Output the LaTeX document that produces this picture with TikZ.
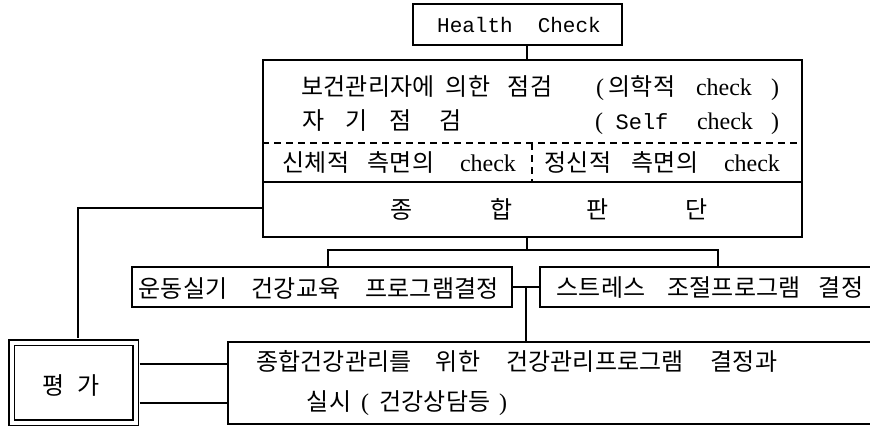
\documentclass[tikz,border=0pt]{standalone}
\usepackage{fontspec}
\setmainfont{Liberation Serif}
\newfontfamily\kr{Noto Sans CJK KR}
\newfontfamily\mono{Liberation Mono}
\tikzset{
  box/.style={draw, rectangle, line width=1.4pt, inner sep=0pt},
  kt/.style={inner sep=0pt, anchor=base, font=\kr\fontsize{24}{26}\selectfont},
  lt/.style={inner sep=0pt, anchor=base, font=\fontsize{24}{26}\selectfont},
  mt/.style={inner sep=0pt, anchor=base, font=\mono\fontsize{21}{24}\selectfont},
  ln/.style={line width=1.3pt},
  dl/.style={line width=1.2pt, dash pattern=on 7pt off 5pt},
}
\begin{document}
\begin{tikzpicture}[x=1pt,y=-1pt]
\useasboundingbox (0,0) rectangle (870,426);
\clip (0,0) rectangle (870,426);
% helper coordinates
\coordinate (v1) at (527,0);
\coordinate (v2) at (526,0);
\coordinate (dA) at (328,0);
\coordinate (dB) at (718,0);
\coordinate (br) at (0,250);
\coordinate (dy) at (0,143);
\coordinate (sy) at (0,182);
\coordinate (dx) at (532,0);
\coordinate (lc) at (0,208);
\coordinate (lx) at (78,0);
\coordinate (l1) at (0,364);
\coordinate (l2) at (0,403);

% boxes
\node[box, minimum width=209pt, minimum height=41pt] (hc) at (517.5,24.5) {};
\node[mt] (hct) at (519,32) {Health\hspace{25pt}Check};
\node[box, minimum width=539pt, minimum height=177pt] (big) at (532.5,148.5) {};
\node[box, minimum width=380pt, minimum height=40pt] (ba) at (322,287) {};
\node[box, minimum width=350pt, minimum height=40pt] (bb) at (715,287) {};
\node[box, minimum width=660pt, minimum height=82pt] (bot) at (558,383) {};
\node[box, double, double distance=4pt, minimum width=124pt, minimum height=80pt] (pg) at (73.5,382.5) {};

% inner lines of the big box
\draw[dl] (big.west |- dy) -- (big.east |- dy);
\draw[ln] (big.west |- sy) -- (big.east |- sy);
\draw[dl] (dx |- dy) -- (dx |- sy);

% row 1
\node[kt] (r1a) at (368,95) {보건관리자에};
\node[kt] (r1b) at (468,95) {의한};
\node[kt] (r1c) at (530,95) {점검};
\node[lt] (r1d) at (600,95) {(};
\node[kt] (r1e) at (642,95) {의학적};
\node[lt] (r1f) at (724,95) {check};
\node[lt] (r1g) at (775,95) {)};
% row 2
\node[kt] (r2a) at (314,129) {자};
\node[kt] (r2b) at (357,129) {기};
\node[kt] (r2c) at (401,129) {점};
\node[kt] (r2d) at (451,129) {검};
\node[lt] (r2e) at (599,129) {(};
\node[mt, font=\mono\fontsize{22}{24}\selectfont] (r2f) at (642,129) {Self};
\node[lt] (r2g) at (725,129) {check};
\node[lt] (r2h) at (775,129) {)};
% row 3
\node[kt] (r3a) at (316,171) {신체적};
\node[kt] (r3b) at (401,171) {측면의};
\node[lt] (r3c) at (488,171) {check};
\node[kt] (r3d) at (578,171) {정신적};
\node[kt] (r3e) at (665,171) {측면의};
\node[lt] (r3f) at (752,171) {check};
% row 4
\node[kt] (r4a) at (402,218) {종};
\node[kt] (r4b) at (502,218) {합};
\node[kt] (r4c) at (598,218) {판};
\node[kt] (r4d) at (697,218) {단};
% box A
\node[kt] (aa) at (183,297) {운동실기};
\node[kt] (ab) at (296,297) {건강교육};
\node[kt] (ac) at (432,297) {프로그램결정};
% box B
\node[kt] (ba1) at (601,296) {스트레스};
\node[kt] (ba2) at (734,296) {조절프로그램};
\node[kt] (ba3) at (841,296) {결정};
% bottom box
\node[kt] (c1) at (334,370) {종합건강관리를};
\node[kt] (c2) at (458,370) {위한};
\node[kt] (c3) at (595,370) {건강관리프로그램};
\node[kt] (c4) at (744,370) {결정과};
\node[kt] (c5) at (329,410) {실시};
\node[lt] (c6) at (365,410) {(};
\node[kt] (c7) at (435,410) {건강상담등};
\node[lt] (c8) at (503,410) {)};
% evaluation box
\node[kt] (p1) at (54,394) {평};
\node[kt] (p2) at (89,394) {가};

% connectors
\draw[ln] (hc.south -| v1) -- (big.north -| v1);
\draw[ln] (big.south -| v1) -- (v1 |- br);
\draw[ln] (ba.north -| dA) |- (dB |- br) -- (bb.north -| dB);
\draw[ln] (ba.east) -- (bb.west);
\draw[ln] (v2 |- ba.east) -- (bot.north -| v2);
\draw[ln, shorten >=3.5pt] (big.west |- lc) -| (pg.north -| lx);
\draw[ln, shorten <=3.5pt] (pg.east |- l1) -- (bot.west |- l1);
\draw[ln, shorten <=3.5pt] (pg.east |- l2) -- (bot.west |- l2);
\end{tikzpicture}
\end{document}
